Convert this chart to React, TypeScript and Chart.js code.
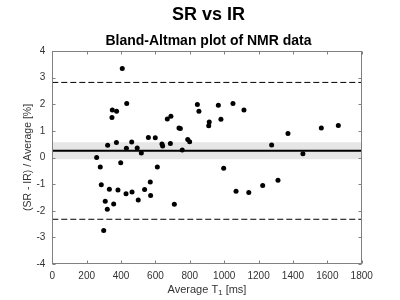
import React, { useEffect, useRef } from "react";
import { Chart, registerables } from "chart.js";

Chart.register(...registerables);

// ---- data ----
const avgT1 = [
  258, 279, 285, 299, 308, 320, 322, 332, 347, 349, 357, 373, 374, 382, 398, 407,
  429, 431, 433, 462, 464, 494, 500, 518, 537, 559, 570, 572, 599, 611, 638, 642,
  669, 687, 690, 710, 737, 745, 756, 788, 799, 844, 853, 910, 913, 966, 981, 997,
  1051, 1069, 1115, 1143, 1224, 1276, 1313, 1371, 1458, 1565, 1664,
];
const diffPct = [
  0.0, -0.36, -1.02, -2.74, -1.64, -1.94, 0.46, -1.19, 1.5, 1.78, -1.75, 0.56, 1.74, -1.22, -0.2, 3.34,
  -1.36, 0.35, 2.03, 0.58, -1.3, 0.36, -1.6, 0.17, -1.2, 0.75, -0.92, -1.43, 0.74, -0.36, 0.51, 0.43,
  1.45, 0.53, 1.55, -1.76, 1.11, 1.09, 0.28, 0.68, 0.59, 1.99, 1.74, 1.19, 1.33, 1.96, 1.44, -0.4,
  2.03, -1.27, 1.78, -1.31, -1.05, 0.47, -0.85, 0.9, 0.14, 1.11, 1.2,
];
const meanDiff = 0.25;
const ciLow = -0.07;
const ciHigh = 0.57;
const loaUpper = 2.82;
const loaLower = -2.32;
const xRange = [0, 1800];
const yRange = [-4, 4];
const xStep = 200;
const yStep = 1;

const titleText = "SR vs IR";
const subtitleText = "Bland-Altman plot of NMR data";
const yLabelText = "(SR - IR) / Average [%]";
const xLabelMain = "Average T";
const xLabelSub = "1";
const xLabelTail = " [ms]";

const FONT = '"Liberation Sans", Arial, sans-serif';
const TEXT = "#333333";

const decorPlugin = {
  id: "decor",
  afterDraw(chart: any) {
    const { ctx, chartArea: a, scales } = chart;
    const xs = scales.x;
    const ys = scales.y;
    ctx.save();
    // box
    ctx.strokeStyle = "#808080";
    ctx.lineWidth = 1;
    const l = Math.round(a.left) + 0.5;
    const t = Math.round(a.top) + 0.5;
    const r = Math.round(a.right) - 0.5;
    const b = Math.round(a.bottom) - 0.5;
    ctx.strokeRect(l, t, r - l, b - t);
    // inward ticks on all sides
    const L = 3;
    ctx.beginPath();
    for (const tk of xs.ticks) {
      const px = Math.round(xs.getPixelForValue(tk.value)) + 0.5;
      ctx.moveTo(px, b);
      ctx.lineTo(px, b - L);
      ctx.moveTo(px, t);
      ctx.lineTo(px, t + L);
    }
    for (const tk of ys.ticks) {
      const py = Math.round(ys.getPixelForValue(tk.value)) + 0.5;
      ctx.moveTo(l, py);
      ctx.lineTo(l + L, py);
      ctx.moveTo(r, py);
      ctx.lineTo(r - L, py);
    }
    ctx.stroke();

    const cx = (a.left + a.right) / 2 + 1.5;
    // titles
    ctx.fillStyle = "#000";
    ctx.textAlign = "center";
    ctx.textBaseline = "alphabetic";
    ctx.font = `bold 18px ${FONT}`;
    ctx.fillText(titleText, cx, 20);
    ctx.font = `bold 14px ${FONT}`;
    ctx.fillText(subtitleText, cx, 44.5);

    // y label
    ctx.fillStyle = TEXT;
    ctx.save();
    ctx.translate(28, (a.top + a.bottom) / 2);
    ctx.rotate(-Math.PI / 2);
    ctx.font = `10.5px ${FONT}`;
    ctx.textAlign = "center";
    ctx.textBaseline = "middle";
    ctx.fillText(yLabelText, 0, 0);
    ctx.restore();

    // x label with subscript
    ctx.textAlign = "left";
    ctx.textBaseline = "alphabetic";
    const mainFont = `11px ${FONT}`;
    const subFont = `8px ${FONT}`;
    ctx.font = mainFont;
    const w1 = ctx.measureText(xLabelMain).width;
    const w3 = ctx.measureText(xLabelTail).width;
    ctx.font = subFont;
    const w2 = ctx.measureText(xLabelSub).width;
    const total = w1 + w2 + w3;
    let x0 = (a.left + a.right) / 2 - total / 2;
    const base = 292.5;
    ctx.font = mainFont;
    ctx.fillText(xLabelMain, x0, base);
    x0 += w1;
    ctx.font = subFont;
    ctx.fillText(xLabelSub, x0, base + 2.5);
    x0 += w2;
    ctx.font = mainFont;
    ctx.fillText(xLabelTail, x0, base);
    ctx.restore();
  },
};

export default function App() {
  const ref = useRef<HTMLCanvasElement | null>(null);

  useEffect(() => {
    if (!ref.current) return;
    const points = avgT1.map((x, i) => ({ x, y: diffPct[i] }));
    const hline = (v: number) => [
      { x: xRange[0], y: v },
      { x: xRange[1], y: v },
    ];
    const chart = new Chart(ref.current, {
      type: "scatter",
      data: {
        datasets: [
          {
            type: "scatter",
            data: points,
            pointRadius: 2.5,
            pointBackgroundColor: "#000",
            pointBorderWidth: 0,
            pointHoverRadius: 2.5,
          } as any,
          {
            type: "line",
            data: hline(meanDiff),
            borderColor: "#000",
            borderWidth: 2,
            pointRadius: 0,
            fill: false,
          },
          {
            type: "line",
            data: hline(loaUpper),
            borderColor: "#000",
            borderWidth: 1,
            borderDash: [6, 3],
            pointRadius: 0,
            fill: false,
          },
          {
            type: "line",
            data: hline(loaLower),
            borderColor: "#000",
            borderWidth: 1,
            borderDash: [6, 3],
            pointRadius: 0,
            fill: false,
          },
          {
            type: "line",
            data: hline(ciHigh),
            borderWidth: 0,
            borderColor: "rgba(0,0,0,0)",
            backgroundColor: "#e6e6e6",
            pointRadius: 0,
            fill: { value: ciLow },
          },
        ],
      },
      options: {
        animation: false,
        responsive: false,
        events: [],
        layout: { padding: { left: 0, right: 38.3, top: 51, bottom: 0 } },
        plugins: {
          legend: { display: false },
          tooltip: { enabled: false },
          title: { display: false },
        },
        scales: {
          x: {
            type: "linear",
            min: xRange[0],
            max: xRange[1],
            grid: { display: false, drawTicks: false },
            border: { display: false },
            ticks: {
              stepSize: xStep,
              padding: 6,
              color: TEXT,
              font: { family: FONT, size: 10 },
              maxRotation: 0,
              callback: (v: any) => String(v),
            },
            afterFit: (s: any) => {
              s.height = 36;
            },
          },
          y: {
            type: "linear",
            min: yRange[0],
            max: yRange[1],
            grid: { display: false, drawTicks: false },
            border: { display: false },
            ticks: {
              stepSize: yStep,
              padding: 7,
              color: TEXT,
              font: { family: FONT, size: 10 },
              callback: (v: any) => String(v),
            },
            afterFit: (s: any) => {
              s.width = 52.3;
            },
          },
        },
      },
      plugins: [decorPlugin],
    } as any);
    return () => chart.destroy();
  }, []);

  return (
    <div style={{ position: "absolute", left: 0, top: 0, width: 400, height: 300, background: "#fff" }}>
      <canvas ref={ref} width={400} height={300} style={{ display: "block" }} />
    </div>
  );
}
